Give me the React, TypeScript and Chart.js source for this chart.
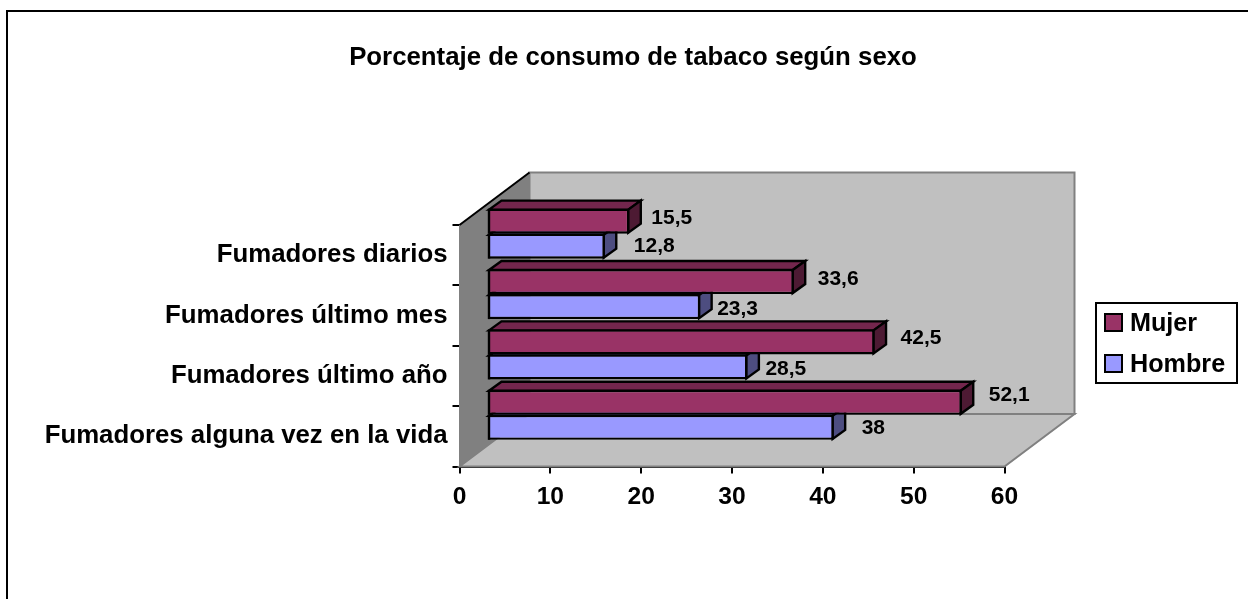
import React, { useEffect, useRef } from "react";
import { Chart, registerables } from "chart.js";

Chart.register(...registerables);

const categories = ["Fumadores diarios", "Fumadores último mes", "Fumadores último año", "Fumadores alguna vez en la vida"];
const mujer = [15.5, 33.6, 42.5, 52.1];
const hombre = [12.8, 23.3, 28.5, 38];
const mujerLabels = ["15,5", "33,6", "42,5", "52,1"];
const hombreLabels = ["12,8", "23,3", "28,5", "38"];
const xTicks = [0, 10, 20, 30, 40, 50, 60];
const title = "Porcentaje de consumo de tabaco según sexo";

const FONT = "'Liberation Sans', Arial, sans-serif";
const WALL_DX = 70;
const WALL_DY = 52.5;
const BAR_DX = 29;
const BAR_DY = -21.5;
const FACE_DX = 12.5;
const FACE_DY = 9;
const labelNudgeX: Record<string, number[]> = { Mujer: [22, 24, 26, 27], Hombre: [29, 17, 18, 28] };
const labelNudgeY: Record<string, number[]> = { Mujer: [-3, -2, -4, -7], Hombre: [0, 3, 2.5, 1] };
const faceColors: Record<string, { top: string; side: string }> = {
  Mujer: { top: "#73264D", side: "#4D1A33" },
  Hombre: { top: "#7373BF", side: "#4D4D80" },
};

function poly(ctx: CanvasRenderingContext2D, pts: number[][], fill: string, stroke: string, lw: number) {
  ctx.beginPath();
  pts.forEach((p, i) => (i ? ctx.lineTo(p[0], p[1]) : ctx.moveTo(p[0], p[1])));
  ctx.closePath();
  ctx.fillStyle = fill;
  ctx.fill();
  ctx.strokeStyle = stroke;
  ctx.lineWidth = lw;
  ctx.stroke();
}

const scene3d = {
  id: "scene3d",
  beforeDatasetsDraw(chart: any) {
    const { ctx, chartArea: a } = chart;
    ctx.save();
    poly(ctx, [[a.left + WALL_DX, a.top - WALL_DY], [a.right + WALL_DX, a.top - WALL_DY], [a.right + WALL_DX, a.bottom - WALL_DY], [a.left + WALL_DX, a.bottom - WALL_DY]], "#C0C0C0", "#808080", 2);
    poly(ctx, [[a.left, a.bottom], [a.right, a.bottom], [a.right + WALL_DX, a.bottom - WALL_DY], [a.left + WALL_DX, a.bottom - WALL_DY]], "#C0C0C0", "#808080", 2);
    poly(ctx, [[a.left, a.top], [a.left + WALL_DX, a.top - WALL_DY], [a.left + WALL_DX, a.bottom - WALL_DY], [a.left, a.bottom]], "#808080", "#808080", 1);
    ctx.beginPath();
    ctx.moveTo(a.left, a.top);
    ctx.lineTo(a.left + WALL_DX, a.top - WALL_DY);
    ctx.strokeStyle = "#000";
    ctx.lineWidth = 2;
    ctx.stroke();
    ctx.restore();
  },
  beforeDatasetDraw(chart: any, args: any) {
    const { ctx } = chart;
    const meta = args.meta;
    const ds = chart.data.datasets[args.index];
    const c = faceColors[ds.label];
    ctx.save();
    ctx.translate(BAR_DX, BAR_DY);
    meta.data.forEach((b: any) => {
      const top = b.y - b.height / 2 + 1;
      const bot = b.y + b.height / 2 - 1;
      const left = b.base - 0.5;
      const right = b.x - 1;
      poly(ctx, [[left, top], [left + FACE_DX, top - FACE_DY], [right + FACE_DX, top - FACE_DY], [right, top]], c.top, "#000", 2.4);
      poly(ctx, [[right, top], [right + FACE_DX, top - FACE_DY], [right + FACE_DX, bot - FACE_DY], [right, bot]], c.side, "#000", 2.4);
    });
  },
  afterDatasetDraw(chart: any, args: any) {
    const { ctx } = chart;
    args.meta.data.forEach((b: any) => {
      ctx.beginPath();
      ctx.moveTo(b.base - 0.5, b.y - b.height / 2);
      ctx.lineTo(b.base - 0.5, b.y + b.height / 2);
      ctx.strokeStyle = "#000";
      ctx.lineWidth = 2.4;
      ctx.stroke();
    });
    ctx.restore();
  },
  afterDraw(chart: any) {
    const { ctx } = chart;
    ctx.save();
    ctx.strokeStyle = "#000";
    ctx.lineWidth = 2;
    ctx.beginPath();
    ctx.moveTo(7, 599);
    ctx.lineTo(7, 11);
    ctx.lineTo(1248, 11);
    ctx.stroke();

    ctx.fillStyle = "#000";
    ctx.textBaseline = "middle";
    ctx.textAlign = "center";
    ctx.font = `bold 25.8px ${FONT}`;
    ctx.fillText(title, 633, 58);

    chart.data.datasets.forEach((ds: any, i: number) => {
      const meta = chart.getDatasetMeta(i);
      const texts = ds.label === "Mujer" ? mujerLabels : hombreLabels;
      ctx.textAlign = "left";
      ctx.font = `bold 21px ${FONT}`;
      meta.data.forEach((b: any, j: number) => {
        ctx.fillText(texts[j], b.x + BAR_DX + labelNudgeX[ds.label][j], b.y + BAR_DY + labelNudgeY[ds.label][j]);
      });
    });

    ctx.fillStyle = "#fff";
    ctx.fillRect(1096, 303, 141, 80);
    ctx.strokeRect(1096, 303, 141, 80);
    ctx.font = `bold 25.2px ${FONT}`;
    chart.data.datasets.forEach((ds: any, i: number) => {
      const y = 314 + i * 41;
      ctx.fillStyle = ds.backgroundColor;
      ctx.fillRect(1105, y, 17, 17);
      ctx.strokeRect(1105, y, 17, 17);
      ctx.fillStyle = "#000";
      ctx.fillText(ds.label, 1130, y + 10);
    });
    ctx.restore();
  },
};

export default function App() {
  const ref = useRef<HTMLCanvasElement>(null);
  useEffect(() => {
    const chart = new Chart(ref.current!, {
      type: "bar",
      data: {
        labels: categories,
        datasets: [
          { label: "Mujer", data: mujer, backgroundColor: "#993366", borderColor: "#000", borderWidth: 2.4, borderSkipped: "start", categoryPercentage: 0.83, barPercentage: 1 },
          { label: "Hombre", data: hombre, backgroundColor: "#9999FF", borderColor: "#000", borderWidth: 2.4, borderSkipped: "start", categoryPercentage: 0.83, barPercentage: 1 },
        ],
      },
      plugins: [scene3d],
      options: {
        indexAxis: "y",
        animation: false,
        responsive: false,
        layout: { padding: { left: 0, top: 225, right: 1248 - 1004.5, bottom: 0 } },
        plugins: { legend: { display: false }, title: { display: false }, tooltip: { enabled: false } },
        scales: {
          x: {
            min: xTicks[0],
            max: xTicks[xTicks.length - 1],
            afterBuildTicks(scale: any) {
              scale.ticks = xTicks.map((v) => ({ value: v }));
            },
            afterFit(scale: any) {
              scale.height = 599 - 466.5;
            },
            grid: { drawOnChartArea: false, color: "#000", lineWidth: 2, tickLength: 7, tickColor: "#000" },
            border: { color: "#000", width: 2 },
            ticks: { color: "#000", font: { family: FONT, weight: "bold", size: 24.6 }, maxRotation: 0, padding: 9 },
          },
          y: {
            afterFit(scale: any) {
              scale.width = 459.5;
            },
            grid: { drawOnChartArea: false, color: "#000", lineWidth: 2, tickLength: 7, tickColor: "#000" },
            border: { color: "#000", width: 2 },
            ticks: { color: "#000", font: { family: FONT, weight: "bold", size: 25.8 }, padding: 5, autoSkip: false },
          },
        },
      },
    } as any);
    return () => chart.destroy();
  }, []);
  return (
    <div style={{ position: "fixed", left: 0, top: 0, width: 1248, height: 599, background: "#fff" }}>
      <canvas ref={ref} width={1248} height={599} style={{ display: "block" }} />
    </div>
  );
}
